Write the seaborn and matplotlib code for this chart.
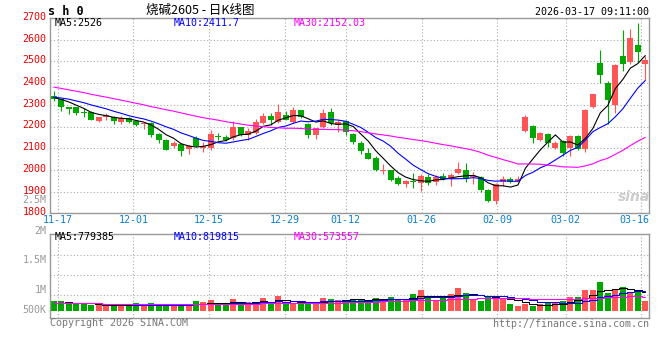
import numpy as np
import pandas as pd
import seaborn as sns
import matplotlib.pyplot as plt
from matplotlib.transforms import ScaledTranslation

# 交易日 (11-14 ~ 03-17)
dates = [
    "11-14", "11-17", "11-18", "11-19", "11-20", "11-21", "11-24", "11-25", "11-26", "11-27", "11-28",
    "12-01", "12-02", "12-03", "12-04", "12-05", "12-08", "12-09", "12-10", "12-11", "12-12",
    "12-15", "12-16", "12-17", "12-18", "12-19", "12-22", "12-23", "12-24", "12-25", "12-26",
    "12-29", "12-30", "12-31",
    "01-05", "01-06", "01-07", "01-08", "01-09", "01-12", "01-13", "01-14", "01-15", "01-16",
    "01-19", "01-20", "01-21", "01-22", "01-23", "01-26", "01-27", "01-28", "01-29", "01-30",
    "02-02", "02-03", "02-04", "02-05", "02-06", "02-09", "02-10", "02-11", "02-12", "02-13",
    "02-24", "02-25", "02-26", "02-27",
    "03-02", "03-03", "03-04", "03-05", "03-06", "03-09", "03-10", "03-11", "03-12", "03-13",
    "03-16", "03-17",
]

opens = [2340, 2326, 2291, 2291, 2265, 2265, 2226, 2245, 2242, 2222,
         2240, 2225, 2210, 2214, 2165, 2140, 2111, 2119, 2097, 2149,
         2103, 2102, 2158, 2151, 2145, 2197, 2160, 2171, 2217, 2248,
         2222, 2252, 2222, 2275, 2211, 2160, 2199, 2266, 2209, 2225,
         2165, 2122, 2079, 2054, 1995, 1999, 1963, 1937, 1949, 1940,
         1966, 1945, 1971, 1957, 1986, 1999, 1965, 1965, 1909, 1857,
         1943, 1960, 1947, 2180, 2202, 2140, 2165, 2103, 2134, 2100,
         2157, 2097, 2292, 2492, 2400, 2300, 2523, 2497, 2577, 2489]
highs = [2364, 2329, 2292, 2292, 2283, 2270, 2245, 2260, 2248, 2248,
         2245, 2228, 2222, 2219, 2168, 2143, 2132, 2122, 2117, 2155,
         2129, 2183, 2171, 2160, 2225, 2200, 2191, 2233, 2263, 2260,
         2303, 2272, 2288, 2278, 2215, 2194, 2280, 2286, 2229, 2232,
         2171, 2134, 2099, 2063, 2029, 2000, 1971, 1952, 1986, 1980,
         1983, 1976, 1988, 1988, 2037, 2032, 1991, 1970, 1913, 1940,
         1971, 1967, 1971, 2255, 2206, 2174, 2168, 2131, 2137, 2159,
         2160, 2280, 2350, 2554, 2408, 2487, 2646, 2649, 2677, 2523]
lows = [2318, 2271, 2259, 2254, 2245, 2228, 2222, 2232, 2212, 2212,
        2215, 2203, 2188, 2152, 2125, 2090, 2100, 2063, 2072, 2105,
        2083, 2091, 2137, 2132, 2140, 2155, 2137, 2165, 2212, 2206,
        2217, 2228, 2217, 2238, 2148, 2142, 2194, 2206, 2175, 2160,
        2119, 2072, 2049, 1995, 1980, 1950, 1930, 1922, 1916, 1903,
        1931, 1931, 1955, 1925, 1980, 1945, 1934, 1899, 1852, 1845,
        1925, 1940, 1945, 2175, 2122, 2135, 2106, 2095, 2066, 2062,
        2092, 2082, 2285, 2400, 2211, 2262, 2457, 2490, 2495, 2415]
closes = [2325, 2288, 2282, 2263, 2260, 2232, 2243, 2251, 2226, 2237,
          2219, 2206, 2214, 2160, 2137, 2094, 2125, 2088, 2109, 2111,
          2111, 2165, 2152, 2137, 2197, 2160, 2178, 2222, 2248, 2232,
          2266, 2232, 2275, 2242, 2162, 2191, 2260, 2214, 2222, 2175,
          2129, 2088, 2051, 1999, 2000, 1952, 1934, 1949, 1942, 1972,
          1940, 1966, 1960, 1975, 2003, 1960, 1975, 1909, 1857, 1934,
          1959, 1945, 1957, 2245, 2149, 2168, 2122, 2123, 2077, 2154,
          2097, 2277, 2349, 2439, 2323, 2485, 2488, 2608, 2545, 2508]
volumes = [405000, 405000, 305000, 280000, 280000, 238000, 238000, 209000, 222000, 222000,
           209000, 334000, 238000, 334000, 238000, 238000, 238000, 238000, 196000, 405000,
           376000, 447000, 238000, 238000, 489000, 305000, 364000, 364000, 531000, 305000,
           614000, 376000, 305000, 305000, 305000, 305000, 531000, 489000, 447000, 447000,
           489000, 489000, 447000, 531000, 489000, 573000, 447000, 447000, 698000, 865000,
           614000, 447000, 531000, 698000, 949000, 740000, 489000, 405000, 573000, 614000,
           531000, 280000, 196000, 280000, 196000, 280000, 305000, 305000, 405000, 573000,
           573000, 865000, 865000, 1212000, 740000, 865000, 991000, 782000, 865000, 405000]

# 图中看不到的前段收盘价/成交量 (仅用于均线起点, 估计值)
pre_close = [2468, 2475, 2460, 2452, 2463, 2447, 2440, 2436, 2442, 2430,
             2428, 2420, 2424, 2335, 2322, 2318, 2330, 2342, 2336, 2325,
             2329, 2333, 2345, 2341, 2336, 2332, 2340, 2338, 2334]
pre_volume = [310000, 295000, 320000, 285000, 300000, 315000, 290000, 305000, 298000, 312000,
              287000, 302000, 318000, 294000, 306000, 299000, 311000, 289000, 303000, 297000,
              308000, 292000, 316000, 301000, 296000, 309000, 293000, 304000, 300000]

# 图上显示的均线数值
price_ma_text = ["MA5:2526", "MA10:2411.7", "MA30:2152.03"]
vol_ma_text = ["MA5:779385", "MA10:819815", "MA30:573557"]

tick_dates = ["11-17", "12-01", "12-15", "12-29", "01-12", "01-26", "02-09", "03-02", "03-16"]
price_ticks = [1800, 1900, 2000, 2100, 2200, 2300, 2400, 2500, 2600, 2700]
vol_labels = ["2.5M", "2M", "1.5M", "1M", "500K"]

W, H = 660, 360
UP, DOWN = "#FF5555", "#00A800"
GRID = "#AAAAAA"
MA_COLORS = ["black", "#0000FF", "#FF00FF"]
MONO = "DejaVu Sans Mono"


def fx(x):
    return x / W


def fy(y):
    return 1 - y / H


def moving_avg(pre, vals, n):
    s = pd.Series(pre + vals, dtype=float)
    return s.rolling(n).mean().iloc[len(pre):].to_numpy()


sns.set_theme(style="white")
plt.rcParams["font.family"] = [MONO]

n = len(dates)
idx = np.arange(n)
df = pd.DataFrame({
    "i": idx,
    "ma5": moving_avg(pre_close, closes, 5),
    "ma10": moving_avg(pre_close, closes, 10),
    "ma30": moving_avg(pre_close, closes, 30),
    "vma5": moving_avg(pre_volume, volumes, 5),
    "vma10": moving_avg(pre_volume, volumes, 10),
    "vma30": moving_avg(pre_volume, volumes, 30),
})
o, h, l, c = map(np.array, (opens, highs, lows, closes))
colors = np.where(c >= o, UP, DOWN)

fig = plt.figure(figsize=(W / 100, H / 100), dpi=100)
ax = fig.add_axes([fx(50), fy(213.3), (649 - 50) / W, (213.3 - 18) / H])
axv = fig.add_axes([fx(50), fy(318.3), (649 - 50) / W, (318.3 - 234.3) / H])

# K 线
ax.vlines(idx, l, h, colors=colors, lw=0.8, zorder=2)
ax.bar(idx, np.maximum(np.abs(c - o), 4), bottom=np.minimum(o, c), width=0.8,
       color=colors, lw=0, zorder=3)
for col, clr in zip(["ma5", "ma10", "ma30"], MA_COLORS):
    sns.lineplot(data=df, x="i", y=col, color=clr, lw=0.8, ax=ax, zorder=4)

# 成交量
axv.bar(idx, volumes, width=0.8, color=colors, lw=0, zorder=2)
for col, clr in zip(["vma5", "vma10", "vma30"], MA_COLORS):
    sns.lineplot(data=df, x="i", y=col, color=clr, lw=0.75, ax=axv, zorder=4,
                 drawstyle="steps-mid")

# 日期刻度 (网格按 n-1 等分)
tick_pos = [dates.index(d) * n / (n - 1) - 0.5 for d in tick_dates]
for a in (ax, axv):
    a.set_xlim(-0.5, n - 0.5)
    a.set_xticks(tick_pos)
    a.set_xticklabels([])
    a.set_xlabel("")
    a.set_ylabel("")
    a.tick_params(length=0)
    a.grid(True, color=GRID, lw=0.8, linestyle=(0, (1, 2)))
    for sp in a.spines.values():
        sp.set_color("#999999")
        sp.set_linewidth(1.0)
    a.set_axisbelow(True)

ax.set_ylim(1800, 2700)
ax.set_yticks(price_ticks)
ax.set_yticklabels([str(v) for v in price_ticks], color="#E60000", fontsize=7.2)
ax.tick_params(axis="y", pad=2.5)
shift = ScaledTranslation(0, 2 / 100, fig.dpi_scale_trans)
for t in ax.get_yticklabels():
    t.set_transform(t.get_transform() + shift)

vlo, vhi = -318000, 3194000
axv.set_ylim(vlo, vhi)
axv.set_yticks([vlo + f * (vhi - vlo) for f in (0.274, 0.512, 0.75)])
axv.set_yticklabels([])

x_to_fig = (ax.transData + fig.transFigure.inverted())
for j, d in enumerate(tick_dates):
    xf = x_to_fig.transform((tick_pos[j], 2000))[0]
    if j == len(tick_dates) - 1:
        fig.text(fx(649.5), fy(220.3), d, ha="right", va="center", fontsize=7.2, color="#0A7FD0")
    else:
        fig.text(xf, fy(220.3), d, ha="center", va="center", fontsize=7.2, color="#0A7FD0")

for lab, ypx in zip(vol_labels, [200, 231, 260.3, 290.3, 310.3]):
    fig.text(fx(46.7), fy(ypx), lab, ha="right", va="center", fontsize=7.2, color="#999999")

# 均线数值
for txt, xpx, clr in zip(price_ma_text, [54.3, 174, 294], MA_COLORS):
    fig.text(fx(xpx), fy(23.3), txt, va="center", fontsize=7.2, color=clr)
for txt, xpx, clr in zip(vol_ma_text, [54.3, 174, 294], MA_COLORS):
    fig.text(fx(xpx), fy(237.5), txt, va="center", fontsize=7.2, color=clr)

# 标题等
fig.text(fx(48), fy(11.5), "s h 0", va="center", fontsize=8.5, fontweight="bold", color="black")
fig.text(fx(200), fy(10), "烧碱2605 - 日K线图", ha="center", va="center", fontsize=9,
         family=["Noto Sans CJK SC", "DejaVu Sans"], color="black")
fig.text(fx(649), fy(11.7), "2026-03-17 09:11:00", ha="right", va="center", fontsize=7.2,
         color="black")
fig.text(fx(50), fy(323), "Copyright 2026 SINA.COM", va="center", fontsize=7.2, color="#777777")
fig.text(fx(649), fy(323.7), "http://finance.sina.com.cn", ha="right", va="center",
         fontsize=7.2, color="#777777")
fig.text(fx(618), fy(197), "sina", va="center", fontsize=10, fontstyle="italic",
         fontweight="bold", family="DejaVu Sans", color="#CCCCCC")

fig.savefig("out.png", dpi=100)
